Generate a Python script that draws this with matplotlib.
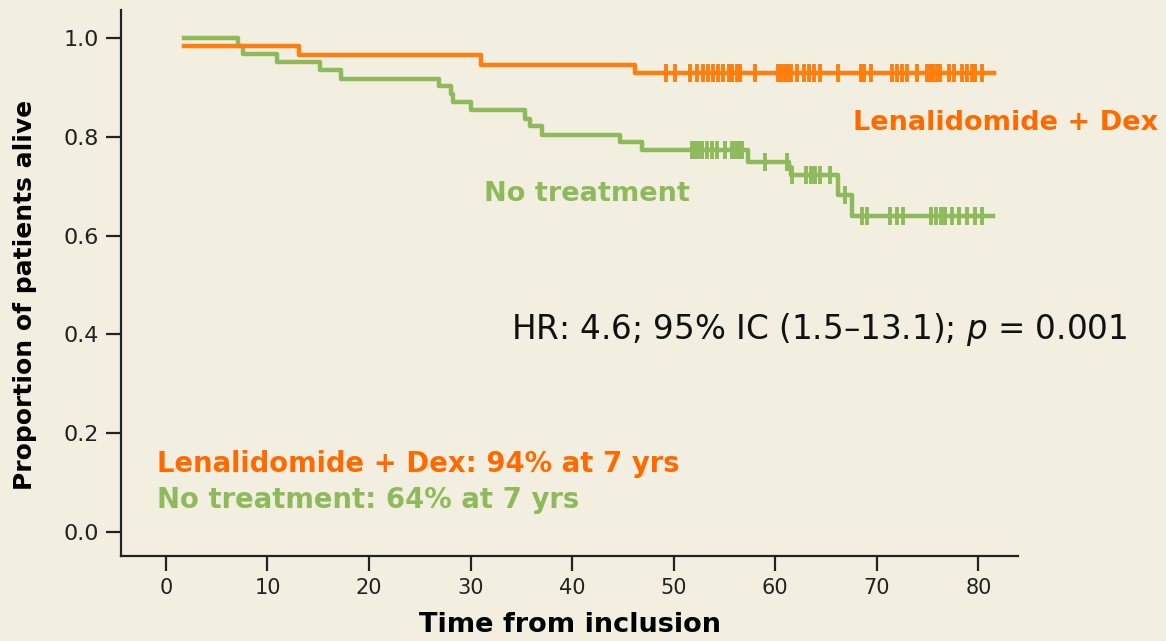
import numpy as np
import matplotlib
matplotlib.use("Agg")
import matplotlib.pyplot as plt

# Kaplan-Meier curves (months, survival proportion)
len_times = [1.8, 13.1, 31.0, 46.2, 81.5]
len_surv = [0.984, 0.966, 0.947, 0.929, 0.929]
len_censor = [49.2, 50.1, 51.6, 52.3, 52.9, 53.4, 53.9, 54.4, 54.9, 55.4, 55.7,
              56.2, 56.5, 58.0, 60.3, 60.6, 61.0, 61.3, 61.6, 62.1, 62.8, 63.3,
              63.8, 64.4, 66.2, 68.4, 68.7, 69.4, 71.5, 72.0, 72.5, 73.0, 74.0,
              74.9, 75.2, 75.5, 75.9, 76.2, 77.1, 77.6, 78.4, 78.9, 79.4, 79.7, 80.4]

no_times = [1.8, 7.1, 7.6, 10.9, 15.2, 17.2, 26.9, 28.1, 28.3, 30.0, 35.4, 35.9,
            37.0, 44.7, 46.9, 57.3, 61.4, 61.6, 66.2, 67.6, 81.4]
no_surv = [1.0, 0.984, 0.968, 0.952, 0.935, 0.918, 0.903, 0.887, 0.870, 0.854,
           0.837, 0.822, 0.805, 0.789, 0.773, 0.750, 0.740, 0.723, 0.682, 0.639, 0.639]
no_censor = [51.8, 52.1, 52.4, 52.8, 53.3, 53.8, 54.3, 55.1, 55.7, 56.1, 56.4, 56.7,
             59.0, 61.2, 61.7, 63.0, 63.5, 63.9, 64.4, 65.4, 66.9, 68.5, 69.0,
             71.3, 72.0, 72.6, 75.3, 75.8, 76.3, 76.7, 77.4, 78.1, 78.9, 79.7, 80.4]

xticks = [0, 10, 20, 30, 40, 50, 60, 70, 80]
yticks = [0.0, 0.2, 0.4, 0.6, 0.8, 1.0]

bg = "#f2eee0"
orange = "#ff7f0e"
orange_txt = "#ff6a00"
green = "#8fba5b"


def surv_at(times, surv, t):
    i = np.searchsorted(times, t, side="right") - 1
    return surv[i]


fig = plt.figure(figsize=(11.66, 6.41), dpi=100, facecolor=bg)
ax = fig.add_axes([0.104, 0.133, 0.769, 0.851])
ax.set_facecolor(bg)

ax.step(no_times, no_surv, where="post", color=green, lw=3.2)
ax.step(len_times, len_surv, where="post", color=orange, lw=3.2)
ax.plot(no_censor, [surv_at(no_times, no_surv, t) for t in no_censor], ls="none",
        marker="|", ms=13, mew=2.8, color=green)
ax.plot(len_censor, [surv_at(len_times, len_surv, t) for t in len_censor], ls="none",
        marker="|", ms=13, mew=2.8, color=orange)

ax.set_xlim(-4.4, 83.9)
ax.set_ylim(-0.049, 1.057)
ax.set_xticks(xticks)
ax.set_yticks(yticks)
ax.set_yticklabels([f"{v:.1f}" for v in yticks], fontsize=16, color="#222222")
ax.set_xticklabels([str(v) for v in xticks], fontsize=15, color="#222222",
                   family="DejaVu Sans Condensed")
ax.tick_params(length=11, width=1.6, color="#222222", pad=5)
for s in ["top", "right"]:
    ax.spines[s].set_visible(False)
for s in ["left", "bottom"]:
    ax.spines[s].set_linewidth(1.6)
    ax.spines[s].set_color("#222222")

ax.set_ylabel("Proportion of patients alive", fontsize=18, fontweight="bold")
ax.yaxis.set_label_coords(-0.094, 0.478)
ax.set_xlabel("Time from inclusion", fontsize=19.5, fontweight="bold",
              family="DejaVu Sans Condensed", labelpad=10)

ax.text(97.7, 0.829, "Lenalidomide + Dex", color=orange_txt, fontsize=19.5,
        fontweight="bold", ha="right", va="center")
ax.text(31.3, 0.685, "No treatment", color=green, fontsize=19.5,
        fontweight="bold", ha="left", va="center")
ax.text(34.0, 0.41, "HR: 4.6; 95% IC (1.5\u201313.1); $\\it{p}$ = 0.001", color="#111111",
        fontsize=23.5, ha="left", va="center")
ax.text(-0.9, 0.138, "Lenalidomide + Dex: 94% at 7 yrs", color=orange_txt, fontsize=19.8,
        fontweight="bold", ha="left", va="center")
ax.text(-0.9, 0.065, "No treatment: 64% at 7 yrs", color=green, fontsize=19.8,
        fontweight="bold", ha="left", va="center")

fig.savefig("out.png", dpi=100, facecolor=bg)
